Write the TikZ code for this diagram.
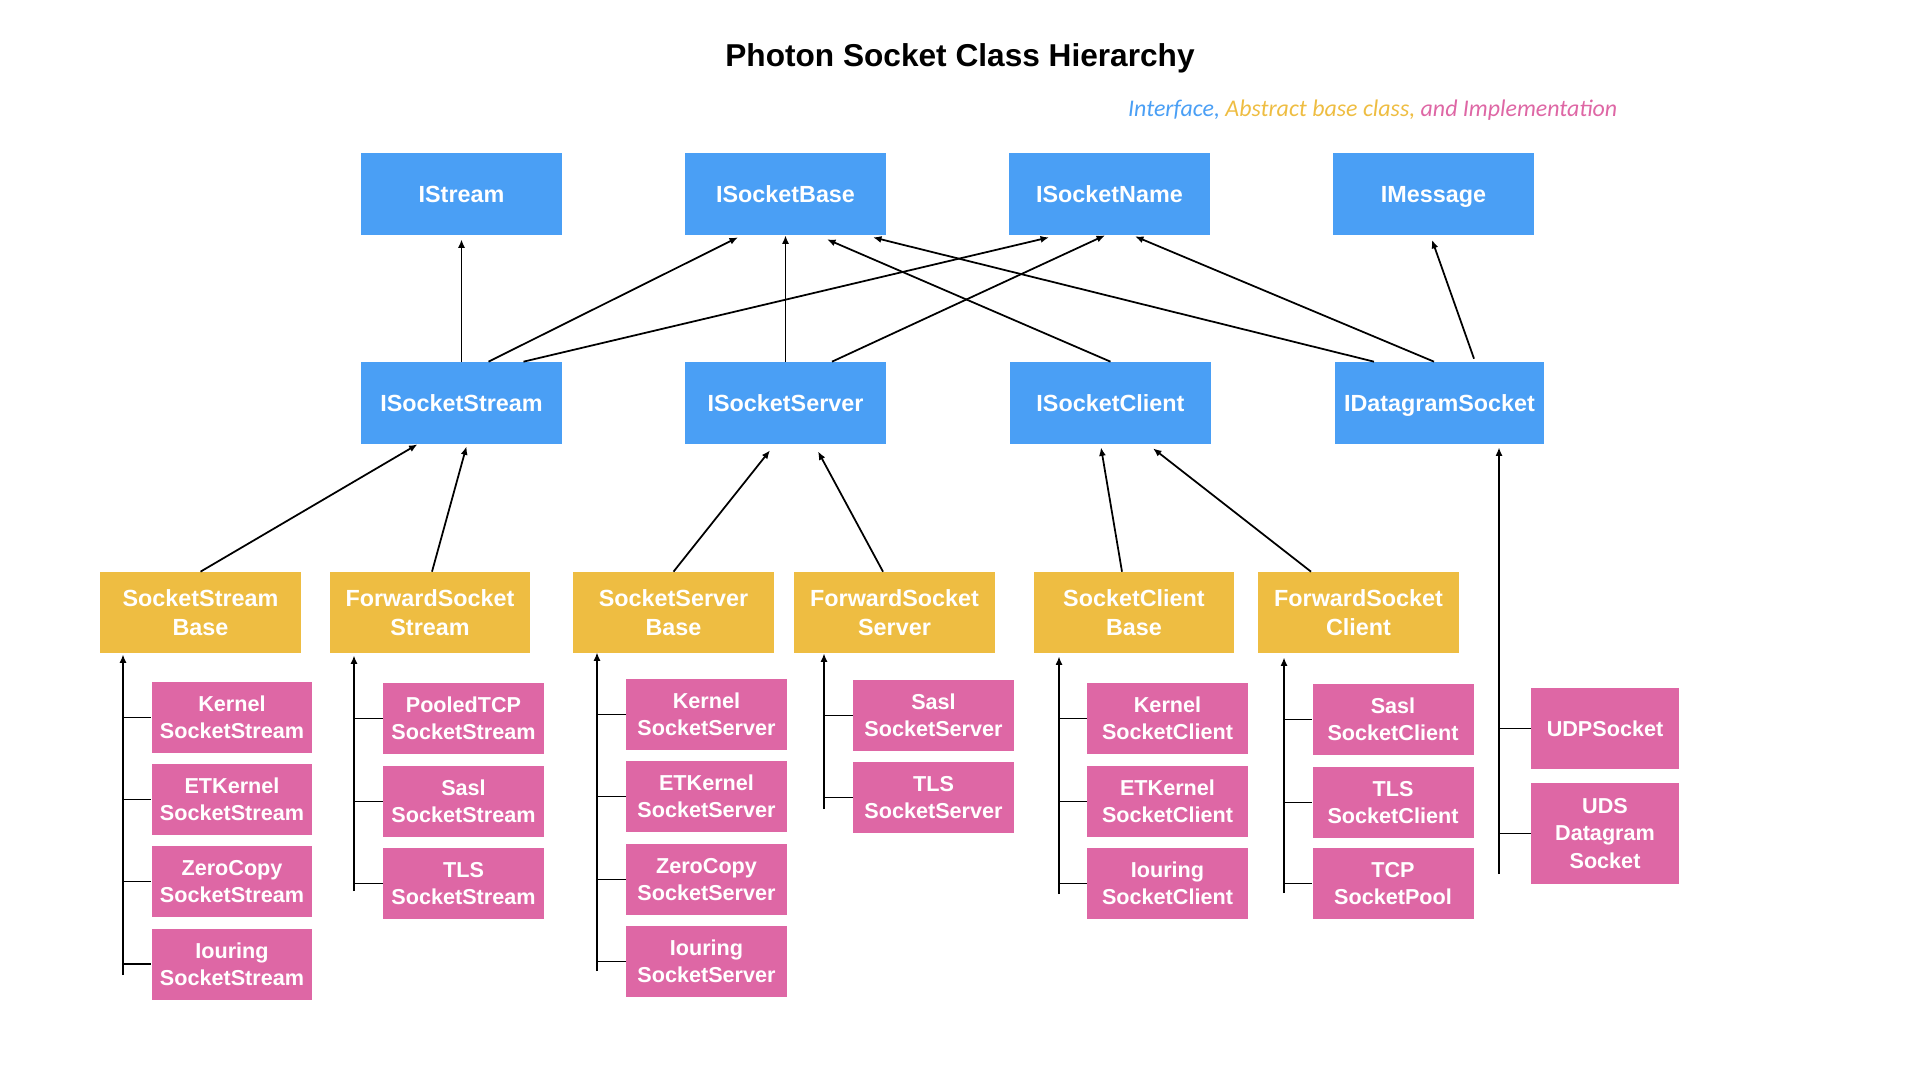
\documentclass[tikz,border=0pt]{standalone}
\usepackage{fontspec}
\setmainfont{Liberation Sans}
\newfontfamily\legendfont{Carlito}
\usepackage[HTML]{xcolor}
\usepackage{tikz}
\usetikzlibrary{positioning, calc, arrows.meta}

\definecolor{ifblue}{HTML}{4A9FF5}
\definecolor{abyellow}{HTML}{EEBD42}
\definecolor{impink}{HTML}{DE67A5}
\newcommand{\boxfont}{\fontsize{13.3}{16.5}\selectfont\bfseries}
\newcommand{\implfont}{\fontsize{12.3}{15.4}\selectfont\bfseries}

\tikzset{
  classbox/.style={text=white, font=\boxfont, align=center, inner sep=0pt,
                   minimum width=4.02cm, minimum height=1.64cm},
  oneline/.style={text height=10.5pt, text depth=1pt},
  iface/.style={classbox, oneline, fill=ifblue},
  absbase/.style={classbox, fill=abyellow, minimum height=1.62cm},
  impl/.style={classbox, font=\implfont, fill=impink, minimum width=3.22cm, minimum height=1.42cm},
  inh/.style={-{Latex[length=0.17cm,width=0.14cm]}, line width=1pt},
  branch/.style={line width=1pt}
}

\begin{document}
\begin{tikzpicture}[x=0.02cm, y=-0.02cm]
\useasboundingbox (0,0) rectangle (1920,1080);

% title and legend
\node[anchor=base, font=\fontsize{18}{20}\selectfont\bfseries] (title) at (960,66.5) {Photon Socket Class Hierarchy};
\node[anchor=base west, font=\legendfont\itshape\fontsize{13.6}{16}\selectfont] (legend) at (1122,116.4)
  {\textcolor{ifblue}{Interface,} \textcolor{abyellow}{Abstract base class,} \textcolor{impink}{and Implementation}};

% interfaces
\node[iface] (is)   at (461.5,194) {IStream};
\node[iface] (isb)  at (785.5,194) {ISocketBase};
\node[iface] (isn)  at (1109.5,194) {ISocketName};
\node[iface] (imsg) at (1433.5,194) {IMessage};

\node[iface] (iss) at (461.5,403) {ISocketStream};
\node[iface] (isv) at (785.5,403) {ISocketServer};
\node[iface] (icl) at (1110.5,403) {ISocketClient};
\node[iface, minimum width=4.18cm] (idg) at (1439.5,403) {IDatagramSocket};

% abstract bases
\node[absbase] (ssb) at (200.5,612.5) {SocketStream\\Base};
\node[absbase] (fss) at (430,612.5) {ForwardSocket\\Stream};
\node[absbase] (svb) at (673.5,612.5) {SocketServer\\Base};
\node[absbase] (fsv) at (894.5,612.5) {ForwardSocket\\Server};
\node[absbase] (clb) at (1134,612.5) {SocketClient\\Base};
\node[absbase] (fcl) at (1358.5,612.5) {ForwardSocket\\Client};

% implementations
\node[impl] (kss)  at (232,717.5) {Kernel\\SocketStream};
\node[impl] (etss) at (232,799.5) {ETKernel\\SocketStream};
\node[impl] (zcss) at (232,881.5) {ZeroCopy\\SocketStream};
\node[impl] (ioss) at (232,964) {Iouring\\SocketStream};

\node[impl] (ptss) at (463.5,718.5) {PooledTCP\\SocketStream};
\node[impl] (sass) at (463.5,801.5) {Sasl\\SocketStream};
\node[impl] (tlss) at (463.5,883.5) {TLS\\SocketStream};

\node[impl] (ksv)  at (706.5,714.5) {Kernel\\SocketServer};
\node[impl] (etsv) at (706.5,796.5) {ETKernel\\SocketServer};
\node[impl] (zcsv) at (706.5,879.5) {ZeroCopy\\SocketServer};
\node[impl] (iosv) at (706.5,961.5) {Iouring\\SocketServer};

\node[impl] (sasv) at (933.5,715.5) {Sasl\\SocketServer};
\node[impl] (tlsv) at (933.5,797.5) {TLS\\SocketServer};

\node[impl] (kcl)  at (1167.5,718.5) {Kernel\\SocketClient};
\node[impl] (etcl) at (1167.5,801.5) {ETKernel\\SocketClient};
\node[impl] (iocl) at (1167.5,883.5) {Iouring\\SocketClient};

\node[impl] (sacl) at (1393,719.5) {Sasl\\SocketClient};
\node[impl] (tlcl) at (1393,802.5) {TLS\\SocketClient};
\node[impl] (tcp)  at (1393,883.5) {TCP\\SocketPool};

\node[impl, text height=9.7pt, text depth=1pt, minimum width=2.96cm, minimum height=1.62cm] (udp) at (1605,728.5) {UDPSocket};
\node[impl, minimum width=2.96cm, minimum height=2.02cm] (uds) at (1605,833.5) {UDS\\Datagram\\Socket};

% interface inheritance
\draw[inh] (iss.north) -- ($(is.south)+(0,4)$);
\draw[inh] ($(iss.north)+(27,0)$) -- ($(isb.south)+(-47.5,2)$);
\draw[inh] ($(iss.north)+(62,0)$) -- ($(isn.south)+(-60.5,2)$);
\draw[inh] (isv.north) -- (isb.south);
\draw[inh] ($(isv.north)+(46.5,0)$) -- ($(isn.south)+(-4.5,0)$);
\draw[inh] (icl.north) -- ($(isb.south)+(41.5,4)$);
\draw[inh] ($(idg.north)+(-65.5,0)$) -- ($(isb.south)+(87.5,2)$);
\draw[inh] ($(idg.north)+(-5.5,0)$) -- ($(isn.south)+(25.5,1)$);
\draw[inh] ($(idg.north)+(34.5,-3)$) -- ($(imsg.south)+(-1.5,4.5)$);

% abstract bases to interfaces
\draw[inh] (ssb.north) -- ($(iss.south)+(-44,0)$);
\draw[inh] ($(fss.north)+(2,0)$) -- ($(iss.south)+(5,2)$);
\draw[inh] (svb.north) -- ($(isv.south)+(-15.5,6)$);
\draw[inh] ($(fsv.north)+(-11.5,0)$) -- ($(isv.south)+(32.5,7)$);
\draw[inh] ($(clb.north)+(-12,0)$) -- ($(icl.south)+(-9.5,3)$);
\draw[inh] ($(fcl.north)+(-47.5,0)$) -- ($(icl.south)+(42.5,4)$);

% implementation groups
\coordinate (ssbend) at (123,975);
\coordinate (fssend) at (354,891);
\coordinate (svbend) at (597,971);
\coordinate (fsvend) at (824,809);
\coordinate (clbend) at (1059,894);
\coordinate (fclend) at (1284,893);
\coordinate (idgend) at (1499,874);

\draw[inh] (ssbend) -- ($(ssbend |- ssb.south)+(0,1)$);
\draw[inh] (fssend) -- ($(fssend |- fss.south)+(0,2)$);
\draw[inh] (svbend) -- ($(svbend |- svb.south)+(0,-1)$);
\draw[inh] (fsvend) -- (fsvend |- fsv.south);
\draw[inh] (clbend) -- ($(clbend |- clb.south)+(0,3)$);
\draw[inh] (fclend) -- ($(fclend |- fcl.south)+(0,4)$);
\draw[inh] (idgend) -- ($(idgend |- idg.south)+(0,3)$);

\foreach \n in {kss,etss,zcss,ioss} \draw[branch] (ssbend |- \n) -- (\n.west);
\foreach \n in {ptss,sass,tlss} \draw[branch] (fssend |- \n) -- (\n.west);
\foreach \n in {ksv,etsv,zcsv,iosv} \draw[branch] (svbend |- \n) -- (\n.west);
\foreach \n in {sasv,tlsv} \draw[branch] (fsvend |- \n) -- (\n.west);
\foreach \n in {kcl,etcl,iocl} \draw[branch] (clbend |- \n) -- (\n.west);
\foreach \n in {sacl,tlcl,tcp} \draw[branch] (fclend |- \n) -- (\n.west);
\foreach \n in {udp,uds} \draw[branch] (idgend |- \n) -- (\n.west);
\end{tikzpicture}
\end{document}
